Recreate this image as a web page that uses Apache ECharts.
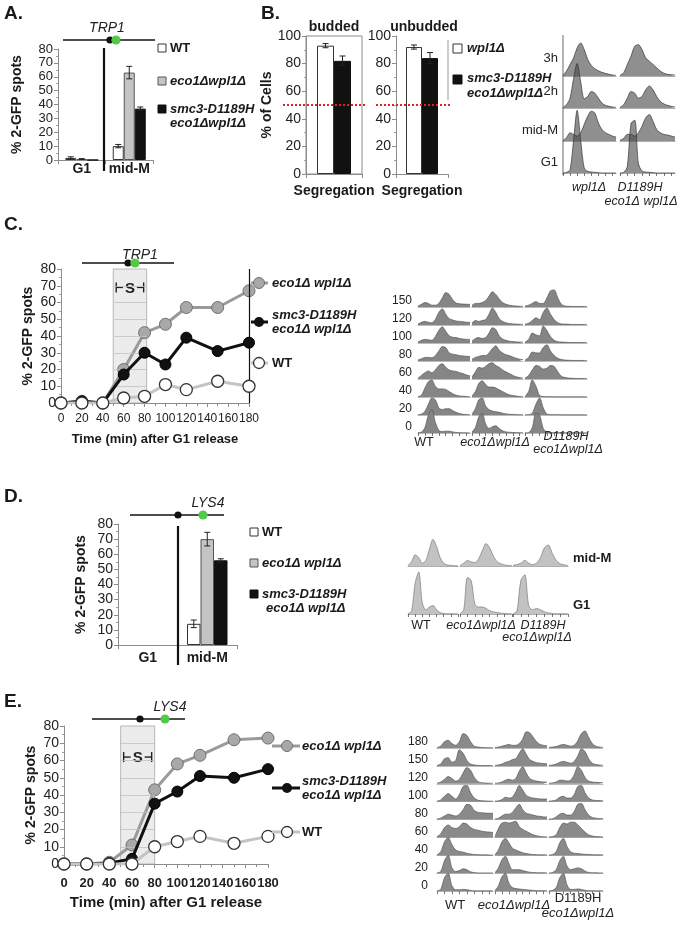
<!DOCTYPE html>
<html><head><meta charset="utf-8">
<script src="https://cdn.jsdelivr.net/npm/echarts@6/dist/echarts.min.js"></script>
<style>html,body{margin:0;padding:0;background:#fff}#c{width:700px;height:934px}</style>
</head><body><div id="c"></div><script>
// ================= DATA =================
const catsAD = ['G1', 'mid-M'];
const A_WT = [1.5, 10],   A_WT_err = [0.8, 1.2];
const A_eco = [0.7, 63],  A_eco_err = [0.3, 4.5];
const A_smc = [0, 37],    A_smc_err = [0, 1.2];

const B_cats = ['Segregation'];
const B_bud_wpl = [93], B_bud_wpl_err = [1.5];
const B_bud_smc = [82], B_bud_smc_err = [3.5];
const B_unb_wpl = [92], B_unb_wpl_err = [1.5];
const B_unb_smc = [84], B_unb_smc_err = [4];
const B_threshold = 50;
const B_rows = ['3h', '2h', 'mid-M', 'G1'];
const B_hist_wpl1 = [
  [0.02,0.15,0.35,0.55,0.85,1.0,0.8,0.5,0.32,0.22,0.16,0.11,0.08,0.05,0.03,0.02],
  [0.02,0.1,0.3,0.9,1.35,0.8,0.28,0.35,0.5,0.45,0.3,0.15,0.08,0.05,0.03,0.02],
  [0.02,0.1,0.25,0.2,0.15,0.25,0.5,0.75,0.9,0.85,0.55,0.35,0.25,0.2,0.15,0.12],
  [0,0.02,0.1,1.0,1.9,1.0,0.15,0.05,0.03,0.02,0.01,0,0,0,0,0]
];
const B_hist_D1189H = [
  [0.02,0.1,0.35,0.6,0.9,0.95,0.8,0.55,0.45,0.35,0.25,0.15,0.08,0.05,0.04,0.03],
  [0.02,0.1,0.3,0.5,0.45,0.3,0.35,0.55,0.67,0.55,0.35,0.2,0.12,0.08,0.05,0.03],
  [0.02,0.08,0.2,0.2,0.15,0.25,0.45,0.7,0.8,0.6,0.35,0.25,0.2,0.18,0.15,0.12],
  [0,0.02,0.2,1.5,1.6,0.3,0.06,0.03,0.02,0.01,0,0,0,0,0,0]
];

const timesC = [0, 20, 40, 60, 80, 100, 120, 150, 180];
const C_eco = [0, 1, 0, 20, 42, 47, 57, 57, 67];
const C_smc = [0, 1, 0, 17, 30, 23, 39, 31, 36];
const C_WT  = [0, 0, 0, 3, 4, 11, 8, 13, 10];
const C_S = [50, 82], C_Sy = 69;
const bandGrid = [10, 20, 30, 40, 50, 60, 70];
const C_rows = ['150','120','100','80','60','40','20','0'];
const C_hist_WT = [
  [0.05,0.15,0.25,0.2,0.1,0.1,0.2,0.5,0.8,0.7,0.4,0.22,0.18,0.16,0.15,0.15],
  [0.05,0.15,0.2,0.15,0.12,0.3,0.7,0.9,0.6,0.35,0.28,0.22,0.2,0.18,0.15,0.15],
  [0.05,0.15,0.2,0.18,0.15,0.35,0.7,0.9,0.65,0.4,0.32,0.3,0.25,0.22,0.2,0.2],
  [0.05,0.12,0.2,0.2,0.18,0.3,0.55,0.8,0.75,0.45,0.38,0.35,0.3,0.28,0.26,0.25],
  [0.05,0.2,0.35,0.45,0.35,0.5,0.75,0.85,0.65,0.5,0.45,0.42,0.35,0.3,0.22,0.18],
  [0.02,0.1,0.5,0.85,0.95,0.6,0.45,0.45,0.42,0.3,0.18,0.1,0.06,0.04,0.03,0.02],
  [0.02,0.05,0.2,0.6,0.95,0.85,0.4,0.3,0.35,0.35,0.25,0.15,0.08,0.04,0.03,0.02],
  [0.02,0.05,0.3,1.0,1.3,0.6,0.15,0.08,0.1,0.1,0.06,0.03,0.02,0.01,0.01,0.01]
];
const C_hist_eco = [
  [0.1,0.2,0.2,0.25,0.35,0.6,0.85,0.7,0.45,0.25,0.15,0.1,0.07,0.05,0.04,0.04],
  [0.1,0.25,0.2,0.25,0.3,0.6,0.95,0.7,0.35,0.2,0.12,0.08,0.06,0.05,0.04,0.04],
  [0.1,0.25,0.3,0.25,0.3,0.55,0.85,0.75,0.4,0.22,0.15,0.1,0.08,0.06,0.05,0.05],
  [0.1,0.2,0.25,0.3,0.3,0.45,0.7,0.85,0.6,0.45,0.35,0.3,0.22,0.15,0.1,0.08],
  [0.1,0.4,0.65,0.6,0.7,0.85,0.9,0.75,0.65,0.5,0.4,0.3,0.2,0.12,0.08,0.05],
  [0.05,0.3,0.75,0.9,0.7,0.55,0.55,0.5,0.4,0.3,0.2,0.12,0.08,0.05,0.03,0.02],
  [0.05,0.35,0.85,0.95,0.5,0.3,0.22,0.18,0.15,0.1,0.06,0.04,0.03,0.02,0.02,0.02],
  [0.05,0.3,0.9,1.1,0.5,0.25,0.35,0.4,0.25,0.12,0.06,0.04,0.03,0.02,0.02,0.02]
];
const C_hist_smc = [
  [0.05,0.1,0.2,0.3,0.2,0.2,0.5,0.9,0.95,0.5,0.15,0.05,0.04,0.03,0.03,0.03,0.03,0.03],
  [0.05,0.1,0.25,0.4,0.3,0.7,0.95,0.6,0.3,0.12,0.06,0.05,0.04,0.03,0.03,0.03,0.03,0.03],
  [0.05,0.2,0.55,0.45,0.4,0.95,0.7,0.35,0.15,0.07,0.05,0.04,0.03,0.03,0.03,0.03,0.03,0.03],
  [0.05,0.2,0.5,0.45,0.45,0.75,0.9,0.55,0.3,0.15,0.08,0.05,0.04,0.03,0.03,0.03,0.03,0.03],
  [0.05,0.2,0.5,0.75,0.7,0.55,0.6,0.75,0.7,0.4,0.15,0.08,0.05,0.04,0.03,0.03,0.03,0.03],
  [0.02,0.3,0.95,0.6,0.08,0.03,0.02,0.02,0.01,0.01,0.01,0.01,0.01,0.01,0.01,0.01,0.01,0.01],
  [0.01,0.02,0.1,0.6,0.95,0.4,0.05,0.02,0.02,0.02,0.01,0.01,0.01,0.01,0.01,0.01,0.01,0.01],
  [0.01,0.02,0.3,1.1,1.0,0.25,0.05,0.02,0.02,0.02,0.01,0.01,0.01,0.01,0.01,0.01,0.01,0.01]
];

const D_WT = [null, 14],  D_WT_err = [0, 2.5];
const D_eco = [null, 70], D_eco_err = [0, 4.5];
const D_smc = [null, 56], D_smc_err = [0, 1];
const D_rows = ['mid-M', 'G1'];
const D_hist_WT = [
  [0.02,0.15,0.4,0.3,0.1,0.2,0.6,0.95,0.7,0.3,0.1,0.04,0.02,0.01,0.01],
  [0.01,0.1,1.1,1.5,0.4,0.15,0.25,0.3,0.15,0.05,0.02,0.01,0.01,0.01,0.01]
];
const D_hist_eco = [
  [0.02,0.1,0.2,0.15,0.12,0.25,0.55,0.8,0.65,0.35,0.15,0.08,0.04,0.02,0.02],
  [0.01,0.15,1.3,1.2,0.35,0.25,0.25,0.2,0.12,0.08,0.05,0.03,0.02,0.01,0.01]
];
const D_hist_smc = [
  [0.02,0.05,0.1,0.2,0.1,0.05,0.1,0.3,0.65,0.75,0.45,0.2,0.08,0.04,0.02],
  [0.01,0.1,1.2,1.4,0.3,0.15,0.2,0.15,0.08,0.04,0.02,0.01,0.01,0.01,0.01]
];

const timesE = [0, 20, 40, 60, 80, 100, 120, 150, 180];
const E_eco = [0, 0, 1, 11, 43, 58, 63, 72, 73];
const E_smc = [0, 0, 0.5, 3, 35, 42, 51, 50, 55];
const E_WT  = [0, 0, 0, 0, 10, 13, 16, 12, 16];
const E_S = [50, 80], E_Sy = 62;
const E_rows = ['180','150','120','100','80','60','40','20','0'];
const E_hist_WT = [
  [0.03,0.1,0.35,0.43,0.25,0.15,0.35,0.8,0.7,0.35,0.1,0.05,0.03,0.02,0.02,0.02],
  [0.03,0.1,0.4,0.45,0.2,0.3,0.9,0.7,0.3,0.1,0.05,0.03,0.02,0.02,0.02,0.02],
  [0.03,0.1,0.25,0.4,0.3,0.15,0.25,0.6,0.9,0.75,0.35,0.12,0.06,0.04,0.03,0.03],
  [0.03,0.1,0.3,0.45,0.3,0.15,0.4,0.85,0.9,0.5,0.2,0.08,0.05,0.04,0.03,0.03],
  [0.03,0.08,0.2,0.3,0.25,0.2,0.3,0.55,0.85,0.8,0.5,0.4,0.38,0.36,0.35,0.35],
  [0.05,0.2,0.55,0.7,0.55,0.5,0.6,0.8,0.75,0.55,0.45,0.4,0.35,0.32,0.3,0.28],
  [0.03,0.2,0.75,1.0,0.6,0.3,0.22,0.18,0.12,0.08,0.05,0.04,0.03,0.03,0.02,0.02],
  [0.02,0.1,0.7,1.0,0.3,0.1,0.15,0.25,0.2,0.08,0.04,0.02,0.02,0.02,0.02,0.02],
  [0.02,0.1,0.75,1.0,0.3,0.08,0.08,0.1,0.08,0.04,0.02,0.02,0.02,0.02,0.02,0.02]
];
const E_hist_eco = [
  [0.03,0.05,0.1,0.15,0.2,0.15,0.15,0.25,0.5,0.9,0.85,0.6,0.35,0.2,0.15,0.12],
  [0.03,0.05,0.1,0.2,0.25,0.35,0.4,0.7,0.95,0.65,0.35,0.25,0.18,0.15,0.13,0.12],
  [0.03,0.05,0.1,0.2,0.25,0.2,0.3,0.7,0.95,0.6,0.3,0.2,0.15,0.12,0.1,0.1],
  [0.03,0.05,0.12,0.25,0.2,0.25,0.55,0.9,0.65,0.35,0.25,0.2,0.18,0.15,0.15,0.15],
  [0.03,0.08,0.2,0.3,0.3,0.4,0.65,0.85,0.55,0.35,0.3,0.25,0.2,0.18,0.15,0.15],
  [0.05,0.5,0.8,0.85,0.8,0.85,0.9,0.6,0.45,0.35,0.25,0.15,0.1,0.06,0.04,0.03],
  [0.03,0.3,0.75,0.95,0.7,0.4,0.3,0.22,0.15,0.1,0.07,0.05,0.04,0.03,0.03,0.03],
  [0.03,0.3,0.75,0.95,0.55,0.2,0.2,0.2,0.15,0.1,0.06,0.04,0.03,0.03,0.03,0.03],
  [0.03,0.3,0.8,1.0,0.45,0.2,0.15,0.12,0.1,0.08,0.06,0.04,0.03,0.03,0.03,0.03]
];
const E_hist_smc = [
  [0.03,0.05,0.08,0.15,0.2,0.15,0.1,0.15,0.4,0.8,0.95,0.6,0.25,0.1,0.05,0.04],
  [0.03,0.05,0.1,0.2,0.25,0.2,0.15,0.25,0.55,0.95,0.8,0.4,0.15,0.08,0.05,0.04],
  [0.03,0.05,0.1,0.2,0.2,0.15,0.2,0.5,0.95,0.75,0.35,0.15,0.1,0.08,0.07,0.06],
  [0.03,0.05,0.1,0.25,0.3,0.2,0.2,0.4,0.85,0.9,0.5,0.2,0.1,0.07,0.06,0.05],
  [0.03,0.05,0.15,0.3,0.35,0.25,0.25,0.45,0.85,0.9,0.55,0.25,0.12,0.08,0.06,0.05],
  [0.03,0.05,0.15,0.55,0.8,0.75,0.85,0.85,0.7,0.5,0.3,0.15,0.08,0.05,0.04,0.03],
  [0.02,0.05,0.2,0.7,0.95,0.5,0.2,0.12,0.1,0.08,0.06,0.05,0.04,0.03,0.03,0.03],
  [0.02,0.05,0.2,0.7,0.95,0.4,0.2,0.25,0.3,0.25,0.12,0.05,0.03,0.03,0.02,0.02],
  [0.02,0.05,0.2,0.75,1.0,0.35,0.1,0.1,0.12,0.1,0.05,0.03,0.02,0.02,0.02,0.02]
];

// ================= BUILD =================
const FF = '"Liberation Sans", Arial, sans-serif';
const TXT = '#1a1a1a';
const grids = [], xAxes = [], yAxes = [], series = [];
function addGrid(g, xa, ya) {
  const i = grids.length;
  grids.push(Object.assign({ containLabel: false, outerBoundsMode: 'none' }, g));
  xAxes.push(Object.assign({ gridIndex: i }, xa));
  yAxes.push(Object.assign({ gridIndex: i }, ya));
  return i;
}
const gLine = { show: true, lineStyle: { color: '#8c8c8c', width: 1 } };
const gTick = { show: true, length: 4, lineStyle: { color: '#8c8c8c' } };
const gMinor = { show: true, splitNumber: 2, length: 2, lineStyle: { color: '#a0a0a0' } };
function valAxis(max, interval, fs, name, gap) {
  return {
    type: 'value', min: 0, max: max, interval: interval,
    axisLine: gLine, axisTick: gTick, minorTick: gMinor, splitLine: { show: false },
    axisLabel: { fontFamily: FF, fontSize: fs, lineHeight: 10, color: '#222', margin: 5,
      showMinLabel: true, showMaxLabel: true, hideOverlap: false },
    name: name, nameLocation: 'middle', nameGap: gap,
    nameTextStyle: { fontFamily: FF, fontSize: 14, fontWeight: 'bold', color: TXT }
  };
}
function catAxis(data, fs, margin) {
  return {
    type: 'category', data: data, axisLine: gLine,
    axisTick: { show: true, length: 4, alignWithLabel: false, interval: 0, lineStyle: { color: '#8c8c8c' } },
    axisLabel: { fontFamily: FF, fontSize: fs, fontWeight: 'bold', color: TXT, margin: margin, interval: 0, hideOverlap: false },
    splitLine: { show: false }
  };
}
const barStyles = [
  { color: '#ffffff', borderColor: '#333', borderWidth: 1 },
  { color: '#c4c4c4', borderColor: '#555', borderWidth: 1 },
  { color: '#111111', borderColor: '#111', borderWidth: 1 }
];
function addBars(gi, arrs, bw, styles) {
  arrs.forEach((a, k) => series.push({
    type: 'bar', xAxisIndex: gi, yAxisIndex: gi, data: a, barWidth: bw, barGap: 0,
    itemStyle: styles[k], silent: true
  }));
}
function addErrors(gi, vals, errs, k, n, bw) {
  series.push({
    type: 'custom', xAxisIndex: gi, yAxisIndex: gi, silent: true, z: 5,
    encode: { x: 0, y: 1 },
    data: vals.map((v, i) => [i, v, errs[i]]).filter(d => d[1] != null && d[2] > 0),
    renderItem: (params, api) => {
      const i = api.value(0), v = api.value(1), e = api.value(2);
      const t = api.coord([i, v + e]), b = api.coord([i, v - e]);
      const x = t[0] + (k - (n - 1) / 2) * bw;
      const st = { stroke: '#222', lineWidth: 1 };
      return { type: 'group', children: [
        { type: 'line', shape: { x1: x, y1: t[1], x2: x, y2: b[1] }, style: st },
        { type: 'line', shape: { x1: x - 3, y1: t[1], x2: x + 3, y2: t[1] }, style: st },
        { type: 'line', shape: { x1: x - 3, y1: b[1], x2: x + 3, y2: b[1] }, style: st }
      ] };
    }
  });
}
function addHist(left, baseline, width, rowH, data, st, bottom) {
  const gi = addGrid({ left: left, top: baseline - rowH, width: width, height: rowH },
    { type: 'category', boundaryGap: false, data: data.map((_, i) => i),
      axisLine: { show: true, lineStyle: { color: st.base, width: 0.8 } },
      axisTick: { show: bottom, interval: 1, length: 3, lineStyle: { color: '#555', width: 0.8 } },
      axisLabel: { show: false }, splitLine: { show: false } },
    { type: 'value', min: 0, max: 1, show: false, splitLine: { show: false } });
  series.push({ type: 'line', xAxisIndex: gi, yAxisIndex: gi, data: data, smooth: 0.3,
    symbol: 'none', clip: false, silent: true,
    lineStyle: { color: st.line, width: 0.7 },
    areaStyle: { color: st.fill, opacity: st.op } });
}

// ---- Panel A ----
const gA = addGrid({ left: 58, top: 49, width: 95, height: 111 },
  catAxis(catsAD, 14, 2), valAxis(80, 10, 13, '% 2-GFP spots', 34));
addBars(gA, [A_WT, A_eco, A_smc], 11, barStyles);
[[A_WT, A_WT_err], [A_eco, A_eco_err], [A_smc, A_smc_err]].forEach((p, k) => addErrors(gA, p[0], p[1], k, 3, 11));

// ---- Panel B ----
const gB1 = addGrid({ left: 306, top: 36, width: 56, height: 138, show: true, borderColor: '#8c8c8c', borderWidth: 1 },
  catAxis(B_cats, 14, 10), valAxis(100, 20, 14, '% of Cells', 28));
const gB2 = addGrid({ left: 396, top: 36, width: 52, height: 138 },
  catAxis(B_cats, 14, 10), valAxis(100, 20, 14, '', 28));
addBars(gB1, [B_bud_wpl, B_bud_smc], 17, [barStyles[0], barStyles[2]]);
addBars(gB2, [B_unb_wpl, B_unb_smc], 16, [barStyles[0], barStyles[2]]);
addErrors(gB1, B_bud_wpl, B_bud_wpl_err, 0, 2, 17);
addErrors(gB1, B_bud_smc, B_bud_smc_err, 1, 2, 17);
addErrors(gB2, B_unb_wpl, B_unb_wpl_err, 0, 2, 16);
addErrors(gB2, B_unb_smc, B_unb_smc_err, 1, 2, 16);

const stB = { base: '#9a9a9a', line: '#333', fill: '#4a4a4a', op: 0.62 };
const B_base = [76, 108, 141, 173];
[{ left: 563, w: 53, d: B_hist_wpl1 }, { left: 620, w: 55, d: B_hist_D1189H }].forEach(c =>
  c.d.forEach((row, i) => addHist(c.left, B_base[i], c.w, 33, row, stB, i === c.d.length - 1)));

// ---- line panels C & E ----
function linePanel(grid, times, eco, smc, wt, S, Sy, labelBold, xfs, namefs, vline) {
  const gi = addGrid(grid,
    { type: 'value', min: 0, max: 180, interval: 20, axisLine: gLine,
      axisTick: { show: true, length: 4, lineStyle: { color: '#8c8c8c' } },
      minorTick: { show: true, splitNumber: 2, length: 3, lineStyle: { color: '#8c8c8c' } },
      splitLine: { show: false },
      axisLabel: { fontFamily: FF, fontSize: xfs, fontWeight: labelBold ? 'bold' : 'normal', color: '#222',
        margin: labelBold ? 13 : 10, showMinLabel: true, showMaxLabel: true, hideOverlap: false },
      name: 'Time (min) after G1 release', nameLocation: 'middle', nameGap: labelBold ? 31 : 30,
      nameTextStyle: { fontFamily: FF, fontSize: namefs, fontWeight: 'bold', color: TXT } },
    valAxis(80, 10, 14, '% 2-GFP spots', 26));
  const ml = bandGrid.map(v => [{ coord: [S[0], v] }, { coord: [S[1], v] }]);
  if (vline != null) ml.push({ xAxis: vline, lineStyle: { color: '#111', width: 1.2 } });
  series.push({ type: 'line', xAxisIndex: gi, yAxisIndex: gi, data: [[S[0], 0]], symbol: 'none',
    lineStyle: { opacity: 0 }, silent: true, z: 1,
    markArea: { silent: true, itemStyle: { color: '#ececec', borderColor: '#a8a8a8', borderWidth: 0.8 },
      data: [[{ xAxis: S[0], yAxis: 0 }, { xAxis: S[1], yAxis: 80 }]] },
    markLine: { silent: true, symbol: 'none', label: { show: false },
      lineStyle: { color: '#c2c2c2', width: 0.8, type: 'solid' }, data: ml } });
  series.push({ type: 'custom', xAxisIndex: gi, yAxisIndex: gi, silent: true, z: 3,
    encode: { x: [0, 1], y: 2 }, data: [[S[0], S[1], Sy]],
    renderItem: (params, api) => {
      const p1 = api.coord([api.value(0), api.value(2)]), p2 = api.coord([api.value(1), api.value(2)]);
      const y = p1[1], a = p1[0] + 3, b = p2[0] - 3, m = (a + b) / 2;
      const st = { stroke: '#222', lineWidth: 1.4 };
      return { type: 'group', children: [
        { type: 'line', shape: { x1: a, y1: y, x2: m - 7, y2: y }, style: st },
        { type: 'line', shape: { x1: m + 7, y1: y, x2: b, y2: y }, style: st },
        { type: 'line', shape: { x1: a, y1: y - 5, x2: a, y2: y + 5 }, style: st },
        { type: 'line', shape: { x1: b, y1: y - 5, x2: b, y2: y + 5 }, style: st },
        { type: 'text', style: { text: 'S', x: m, y: y + 1, align: 'center', verticalAlign: 'middle',
          font: 'bold 15px ' + FF, fill: '#222' } }
      ] };
    } });
  const mk = (vals) => times.map((t, i) => [t, vals[i]]);
  series.push({ type: 'line', xAxisIndex: gi, yAxisIndex: gi, data: mk(eco), z: 4, silent: true,
    symbol: 'circle', symbolSize: 12, lineStyle: { color: '#9a9a9a', width: 3 },
    itemStyle: { color: '#a8a8a8', borderColor: '#707070', borderWidth: 1 } });
  series.push({ type: 'line', xAxisIndex: gi, yAxisIndex: gi, data: mk(smc), z: 5, silent: true,
    symbol: 'circle', symbolSize: 11, lineStyle: { color: '#111', width: 3 },
    itemStyle: { color: '#111', borderColor: '#000', borderWidth: 1 } });
  series.push({ type: 'line', xAxisIndex: gi, yAxisIndex: gi, data: mk(wt), z: 6, silent: true,
    symbol: 'circle', symbolSize: 12, lineStyle: { color: '#c4c4c4', width: 3 },
    itemStyle: { color: '#fff', borderColor: '#333', borderWidth: 1.3 } });
  return gi;
}
const gC = linePanel({ left: 61, top: 269, width: 188, height: 134 }, timesC, C_eco, C_smc, C_WT, C_S, C_Sy, false, 12, 13, 180);
const stC = { base: '#aaa', line: '#555', fill: '#858585', op: 1 };
[{ left: 418, w: 52, d: C_hist_WT }, { left: 472, w: 51, d: C_hist_eco }, { left: 525, w: 62, d: C_hist_smc }].forEach(c =>
  c.d.forEach((row, i) => addHist(c.left, 307 + 18 * i, c.w, 18, row, stC, i === c.d.length - 1)));

// ---- Panel D ----
const gD = addGrid({ left: 118, top: 524, width: 119, height: 121 },
  catAxis(catsAD, 14, 6), valAxis(80, 10, 14, '% 2-GFP spots', 30));
addBars(gD, [D_WT, D_eco, D_smc], 13.5, barStyles);
[[D_WT, D_WT_err], [D_eco, D_eco_err], [D_smc, D_smc_err]].forEach((p, k) => addErrors(gD, p[0], p[1], k, 3, 13.5));
const stD = { base: '#999', line: '#7a7a7a', fill: '#c2c2c2', op: 1 };
const D_base = [566, 614];
[{ left: 408, w: 50, d: D_hist_WT }, { left: 460, w: 52, d: D_hist_eco }, { left: 513, w: 55, d: D_hist_smc }].forEach(c =>
  c.d.forEach((row, i) => addHist(c.left, D_base[i], c.w, 28, row, stD, i === c.d.length - 1)));

// ---- Panel E ----
const gE = linePanel({ left: 64, top: 726, width: 204, height: 138 }, timesE, E_eco, E_smc, E_WT, E_S, E_Sy, true, 13, 15, null);
const stE = { base: '#aaa', line: '#555', fill: '#8a8a8a', op: 1 };
[{ left: 437, w: 56, d: E_hist_WT }, { left: 495, w: 52, d: E_hist_eco }, { left: 549, w: 54, d: E_hist_smc }].forEach(c =>
  c.d.forEach((row, i) => addHist(c.left, 748 + 17.9 * i, c.w, 18, row, stE, i === c.d.length - 1)));

const chart = echarts.init(document.getElementById('c'), null, { renderer: 'canvas', width: 700, height: 934 });
chart.setOption({ animation: false, backgroundColor: '#fff', grid: grids, xAxis: xAxes, yAxis: yAxes, series: series });

// ================= DECORATION (text, diagrams, legends) =================
const G = [];
function T(text, x, y, font, align, color) {
  G.push({ type: 'text', x: x, y: y, silent: true, z: 10,
    style: { text: text, font: font + ' ' + FF, fill: color || TXT, align: align || 'left', verticalAlign: 'middle' } });
}
function L(x1, y1, x2, y2, color, w, dash) {
  G.push({ type: 'line', silent: true, z: 10, shape: { x1, y1, x2, y2 },
    style: { stroke: color, lineWidth: w, lineDash: dash || null } });
}
function Cc(cx, cy, r, fill, stroke, lw) {
  G.push({ type: 'circle', silent: true, z: 11, shape: { cx, cy, r }, style: { fill, stroke: stroke || null, lineWidth: lw || 0 } });
}
function R(x, y, w, h, fill, stroke) {
  G.push({ type: 'rect', silent: true, z: 10, shape: { x, y, width: w, height: h }, style: { fill, stroke, lineWidth: 1 } });
}
function chromo(label, tx, ty, x1, x2, y, bx, gx) {
  T(label, tx, ty, 'italic 14px', 'center', '#222');
  L(x1, y, x2, y, '#111', 1.5);
  Cc(bx, y, 3.6, '#111');
  Cc(gx, y, 4.6, '#55c84a');
}
// panel letters
T('A.', 4, 14, 'bold 19px'); T('B.', 261, 14, 'bold 19px'); T('C.', 4, 225, 'bold 19px');
T('D.', 4, 497, 'bold 19px'); T('E.', 4, 702, 'bold 19px');
// A
chromo('TRP1', 107, 28, 63, 155, 40, 110, 116);
L(104, 48, 104, 171, '#111', 2.2);
R(158, 44, 8, 8, '#fff', '#333'); T('WT', 170, 48, 'bold 13px');
R(158, 77, 8, 8, '#c4c4c4', '#555'); T('eco1Δwpl1Δ', 170, 81, 'bold italic 13px');
R(158, 105, 8, 8, '#111', '#111'); T('smc3-D1189H', 170, 109, 'bold italic 13px'); T('eco1Δwpl1Δ', 170, 123, 'bold italic 13px');
// B
T('budded', 334, 27, 'bold 14px', 'center'); T('unbudded', 424, 27, 'bold 14px', 'center');
const yThr = chart.convertToPixel({ yAxisIndex: gB1 }, B_threshold);
L(283, yThr, 365, yThr, '#e0241c', 2, [2, 2]);
L(376, yThr, 450, yThr, '#e0241c', 2, [2, 2]);
L(448, 40, 448, 100, '#999', 1);
R(453, 44, 9, 9, '#fff', '#333'); T('wpl1Δ', 467, 48, 'bold italic 13px');
R(453, 75, 9, 9, '#111', '#111'); T('smc3-D1189H', 467, 78, 'bold italic 13px'); T('eco1Δwpl1Δ', 467, 93, 'bold italic 13px');
L(563, 35, 563, 175, '#444', 0.8);
[58, 91, 130, 162].forEach((y, i) => T(B_rows[i], 558, y, '13px', 'right', '#222'));
T('wpl1Δ', 589, 188, 'italic 12.5px', 'center', '#222');
T('D1189H', 640, 188, 'italic 12.5px', 'center', '#222');
T('eco1Δ wpl1Δ', 641, 202, 'italic 12.5px', 'center', '#222');
// C
chromo('TRP1', 140, 255, 82, 174, 263, 128, 135);
L(251, 283, 268, 283, '#9a9a9a', 3); Cc(259, 283, 5.5, '#a8a8a8', '#707070', 1); T('eco1Δ wpl1Δ', 272, 283, 'bold italic 13px');
L(251, 322, 268, 322, '#111', 3); Cc(259, 322, 5, '#111'); T('smc3-D1189H', 272, 315, 'bold italic 13px'); T('eco1Δ wpl1Δ', 272, 329, 'bold italic 13px');
L(251, 363, 268, 363, '#c4c4c4', 3); Cc(259, 363, 5.5, '#fff', '#333', 1.3); T('WT', 272, 363, 'bold 13px');
C_rows.forEach((r, i) => T(r, 412, 307 + 18 * i - 6, '12px', 'right', '#222'));
T('WT', 424, 443, '12.5px', 'center', '#222');
T('eco1Δwpl1Δ', 495, 443, 'italic 12.5px', 'center', '#222');
T('D1189H', 566, 437, 'italic 12.5px', 'center', '#222');
T('eco1Δwpl1Δ', 568, 450, 'italic 12.5px', 'center', '#222');
// D
chromo('LYS4', 208, 503, 130, 224, 515, 178, 203);
L(178, 526, 178, 665, '#111', 2.2);
R(250, 528, 8, 8, '#fff', '#333'); T('WT', 262, 532, 'bold 13px');
R(250, 559, 8, 8, '#c4c4c4', '#555'); T('eco1Δ wpl1Δ', 262, 563, 'bold italic 13px');
R(250, 590, 8, 8, '#111', '#111'); T('smc3-D1189H', 262, 594, 'bold italic 13px'); T('eco1Δ wpl1Δ', 266, 608, 'bold italic 13px');
T(D_rows[0], 573, 558, 'bold 13px'); T(D_rows[1], 573, 605, 'bold 13px');
T('WT', 421, 626, '12.5px', 'center', '#222');
T('eco1Δwpl1Δ', 481, 626, 'italic 12.5px', 'center', '#222');
T('D1189H', 543, 626, 'italic 12.5px', 'center', '#222');
T('eco1Δwpl1Δ', 537, 638, 'italic 12.5px', 'center', '#222');
// E
chromo('LYS4', 170, 707, 92, 185, 719, 140, 165);
L(272, 746, 300, 746, '#9a9a9a', 3); Cc(287, 746, 5.5, '#a8a8a8', '#707070', 1); T('eco1Δ wpl1Δ', 302, 746, 'bold italic 13px');
L(272, 788, 300, 788, '#111', 3); Cc(287, 788, 5, '#111'); T('smc3-D1189H', 302, 781, 'bold italic 13px'); T('eco1Δ wpl1Δ', 302, 795, 'bold italic 13px');
L(272, 832, 300, 832, '#c4c4c4', 3); Cc(287, 832, 5.5, '#fff', '#333', 1.3); T('WT', 302, 832, 'bold 13px');
E_rows.forEach((r, i) => T(r, 428, 748 + 17.9 * i - 6, '12px', 'right', '#222'));
T('WT', 455, 905, '13px', 'center', '#222');
T('eco1Δwpl1Δ', 514, 905, 'italic 13px', 'center', '#222');
T('D1189H', 578, 898, '13px', 'center', '#222');
T('eco1Δwpl1Δ', 578, 913, 'italic 13px', 'center', '#222');

chart.setOption({ graphic: G });
</script></body></html>
